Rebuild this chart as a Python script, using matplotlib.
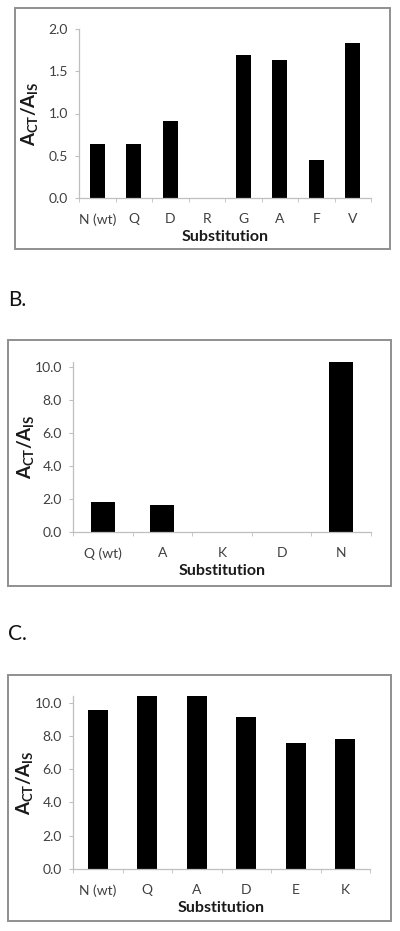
import numpy as np
import matplotlib
matplotlib.use("Agg")
import matplotlib.pyplot as plt
from matplotlib.patches import Rectangle
from matplotlib.ticker import FixedLocator

plt.rcParams["font.family"] = ["Lato", "DejaVu Sans"]
plt.rcParams["mathtext.fontset"] = "custom"
plt.rcParams["mathtext.rm"] = "Lato:weight=bold"
plt.rcParams["mathtext.it"] = "Lato:weight=bold"
plt.rcParams["mathtext.bf"] = "Lato:weight=bold"

# panel A
labels_a = ["N (wt)", "Q", "D", "R", "G", "A", "F", "V"]
values_a = [0.64, 0.64, 0.91, 0.0, 1.69, 1.63, 0.455, 1.84]

# panel B
labels_b = ["Q (wt)", "A", "K", "D", "N"]
values_b = [1.80, 1.64, 0.0, 0.0, 10.30]

# panel C
labels_c = ["N (wt)", "Q", "A", "D", "E", "K"]
values_c = [9.54, 10.38, 10.38, 9.12, 7.56, 7.82]

W, H = 400, 931
fig = plt.figure(figsize=(W / 100, H / 100), dpi=100)


def px_axes(left, top, right, bottom):
    # pixel box -> figure fraction
    return fig.add_axes([left / W, 1 - bottom / H, (right - left) / W, (bottom - top) / H])


def frame(left, top, right, bottom):
    fig.patches.append(Rectangle((left / W, 1 - bottom / H), (right - left) / W, (bottom - top) / H,
                                 transform=fig.transFigure, fill=False, edgecolor="#8f8f8f", linewidth=1.4))


def bar_panel(ax, labels, values, ymax, yticks, ylab_x):
    n = len(labels)
    x = np.arange(n)
    ax.bar(x, values, width=0.4, color="black")
    ax.set_xlim(-0.5, n - 0.5)
    ax.set_ylim(0, ymax)
    ax.set_yticks(yticks)
    ax.set_yticklabels([f"{t:.1f}" for t in yticks])
    ax.set_xticks(x)
    ax.set_xticklabels(labels)
    ax.xaxis.set_minor_locator(FixedLocator(np.arange(n + 1) - 0.5))
    ax.tick_params(axis="x", which="major", length=0, pad=11, labelsize=10, labelcolor="#404040")
    ax.tick_params(axis="x", which="minor", length=3, color="#bfbfbf", direction="out")
    ax.tick_params(axis="y", length=3, color="#bfbfbf", direction="out", pad=5, labelsize=10,
                   labelcolor="#404040")
    for s in ["top", "right"]:
        ax.spines[s].set_visible(False)
    for s in ["left", "bottom"]:
        ax.spines[s].set_color("#bfbfbf")
        ax.spines[s].set_linewidth(0.9)
    ax.set_xlabel("Substitution", fontsize=11.5, fontweight="bold", color="#1a1a1a", labelpad=3)
    ax.set_ylabel(r"$A_{CT}/A_{IS}$", fontsize=13.5, color="#1a1a1a")
    ax.yaxis.set_label_coords(ylab_x, 0.5)


# A
frame(15, 8, 390, 249)
ax_a = px_axes(79, 29, 371, 198)
bar_panel(ax_a, labels_a, values_a, 2.0, [0.0, 0.5, 1.0, 1.5, 2.0], -0.135)

# B
fig.text(8 / W, 1 - 306 / H, "B.", fontsize=15, color="#111111")
frame(8, 340, 391, 586)
ax_b = px_axes(73, 362, 371, 532)
bar_panel(ax_b, labels_b, values_b, 10.3, [0.0, 2.0, 4.0, 6.0, 8.0, 10.0], -0.125)

# C
fig.text(8 / W, 1 - 640 / H, "C.", fontsize=15, color="#111111")
frame(8, 675, 391, 921)
ax_c = px_axes(73, 696, 370, 869)
bar_panel(ax_c, labels_c, values_c, 10.4, [0.0, 2.0, 4.0, 6.0, 8.0, 10.0], -0.128)

fig.savefig("out.png", dpi=100)
